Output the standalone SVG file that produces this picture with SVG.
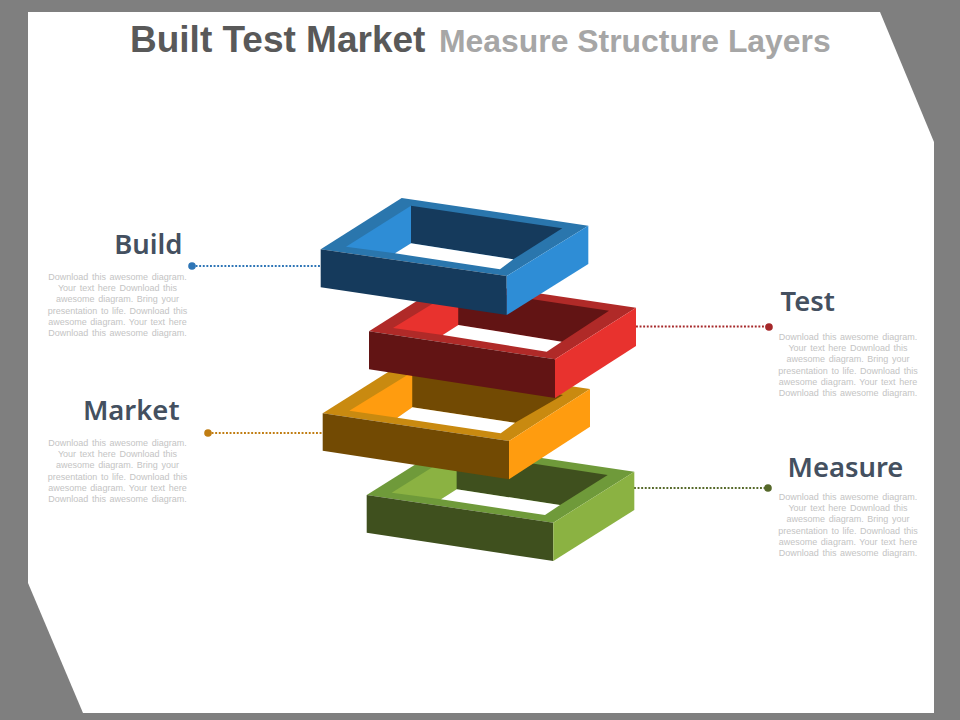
<svg xmlns="http://www.w3.org/2000/svg" width="960" height="720" viewBox="0 0 960 720">
<style>
.ttl{font-family:"Liberation Sans",Arial,sans-serif;font-weight:700}
.lbl{font-family:"Noto Sans","Open Sans",sans-serif;font-weight:600;font-size:27.4px;fill:#445060}
.body{font-family:"Liberation Sans",Arial,sans-serif;font-size:9px;fill:#c4c4c4;text-anchor:middle;word-spacing:1.1px}
.lead{fill:none;stroke-width:1.9;stroke-dasharray:1.9 1.7}
</style>
<rect width="960" height="720" fill="#7f7f7f"/>
<polygon points="28,12 880,12 934,142 934,713 83,713 28,583" fill="#fff"/>
<text id="title" class="ttl" x="130" y="52" font-size="37" fill="#595959">Built Test Market</text>
<text id="subtitle" class="ttl" x="439" y="52" font-size="31.9" fill="#a6a6a6">Measure Structure Layers</text>

<g id="connectors">
<path class="lead" stroke="#2e75b6" d="M192 266H321"/>
<path class="lead" stroke="#a5282a" d="M636 326.500H769"/>
<path class="lead" stroke="#c07d12" d="M208 433H323"/>
<path class="lead" stroke="#56692a" d="M634 488H768"/>
</g>

<g id="layer-measure">
<polygon fill="#6f9a3a" points="366.7,495 448,444 634.3,471.7 553.3,522.7"/>
<polygon fill="#8bb242" points="391.7,492.7 456.7,452 456.7,489.3 441,499.3"/>
<polygon fill="#3f501e" points="456.7,452 607.7,475 560,505 456.7,489.3"/>
<polygon fill="#fff" points="456.7,489.3 560,505 545,515 441,499.3"/>
<polygon fill="#3f501e" points="366.7,495 553.3,522.7 553.3,561 366.7,532.7"/>
<polygon fill="#8bb242" points="553.3,522.7 634.3,471.7 634.3,510 553.3,561"/>
</g>
<g id="layer-market">
<polygon fill="#c98a10" points="322.7,413.3 404,362 590,389 509,441"/>
<polygon fill="#ff9c0f" points="349.3,410.7 412.3,372 412.3,407.3 397.3,417.7"/>
<polygon fill="#724a03" points="412.3,372 563,395 515,422.7 412.3,407.3"/>
<polygon fill="#fff" points="412.3,407.3 515,422.7 500.7,433.3 397.3,417.7"/>
<polygon fill="#724a03" points="322.7,413.3 509,441 509,479.3 322.7,450.7"/>
<polygon fill="#ff9c0f" points="509,441 590,389 590,426.7 509,479.3"/>
</g>
<g id="layer-test">
<polygon fill="#b02a28" points="369,331.3 450,280 636,307.7 555,359.3"/>
<polygon fill="#e8322e" points="393,328 458.3,288 458.3,325 442.7,335"/>
<polygon fill="#621414" points="458.3,288 609,310.7 561.7,341.7 458.3,325"/>
<polygon fill="#fff" points="458.3,325 561.7,341.7 546.7,351.7 442.7,335"/>
<polygon fill="#621414" points="369,331.3 555,359.3 555,398 369,369.3"/>
<polygon fill="#e8322e" points="555,359.3 636,307.7 636,346 555,398"/>
</g>
<g id="layer-build">
<polygon fill="#2a76ad" points="320.7,249.3 401.7,198 588.3,225.7 506.7,276"/>
<polygon fill="#2e8dd6" points="346,246.7 411,205.7 411,243.3 395,253.3"/>
<polygon fill="#153a5c" points="411,205.7 562.3,228.3 513.3,259.3 411,243.3"/>
<polygon fill="#fff" points="411,243.3 513.3,259.3 500,269.3 395,253.3"/>
<polygon fill="#153a5c" points="320.7,249.3 506.7,276 506.7,315 320.7,287.3"/>
<polygon fill="#2e8dd6" points="506.7,276 588.3,225.7 588.3,264 506.7,315"/>
</g>

<g id="node-build">
<circle cx="192" cy="266" r="3.800" fill="#2e75b6"/>
<text class="lbl" x="182.500" y="254" text-anchor="end">Build</text>
<text class="body"><tspan x="117.500" y="280">Download this awesome diagram.</tspan><tspan x="117.500" y="291.200">Your text here Download this</tspan><tspan x="117.500" y="302.400">awesome diagram. Bring your</tspan><tspan x="117.500" y="313.600">presentation to life. Download this</tspan><tspan x="117.500" y="324.800">awesome diagram. Your text here</tspan><tspan x="117.500" y="336">Download this awesome diagram.</tspan></text>
</g>
<g id="node-test">
<circle cx="769" cy="327" r="3.800" fill="#a5282a"/>
<text class="lbl" x="780.500" y="311">Test</text>
<text class="body"><tspan x="848" y="340">Download this awesome diagram.</tspan><tspan x="848" y="351.200">Your text here Download this</tspan><tspan x="848" y="362.400">awesome diagram. Bring your</tspan><tspan x="848" y="373.600">presentation to life. Download this</tspan><tspan x="848" y="384.800">awesome diagram. Your text here</tspan><tspan x="848" y="396">Download this awesome diagram.</tspan></text>
</g>
<g id="node-market">
<circle cx="208" cy="433" r="3.800" fill="#c07d12"/>
<text class="lbl" x="179.500" y="420" text-anchor="end">Market</text>
<text class="body"><tspan x="117.500" y="446">Download this awesome diagram.</tspan><tspan x="117.500" y="457.200">Your text here Download this</tspan><tspan x="117.500" y="468.400">awesome diagram. Bring your</tspan><tspan x="117.500" y="479.600">presentation to life. Download this</tspan><tspan x="117.500" y="490.800">awesome diagram. Your text here</tspan><tspan x="117.500" y="502">Download this awesome diagram.</tspan></text>
</g>
<g id="node-measure">
<circle cx="768" cy="488" r="3.800" fill="#56692a"/>
<text class="lbl" x="787.500" y="477">Measure</text>
<text class="body"><tspan x="848" y="500">Download this awesome diagram.</tspan><tspan x="848" y="511.200">Your text here Download this</tspan><tspan x="848" y="522.400">awesome diagram. Bring your</tspan><tspan x="848" y="533.600">presentation to life. Download this</tspan><tspan x="848" y="544.800">awesome diagram. Your text here</tspan><tspan x="848" y="556">Download this awesome diagram.</tspan></text>
</g>
</svg>
